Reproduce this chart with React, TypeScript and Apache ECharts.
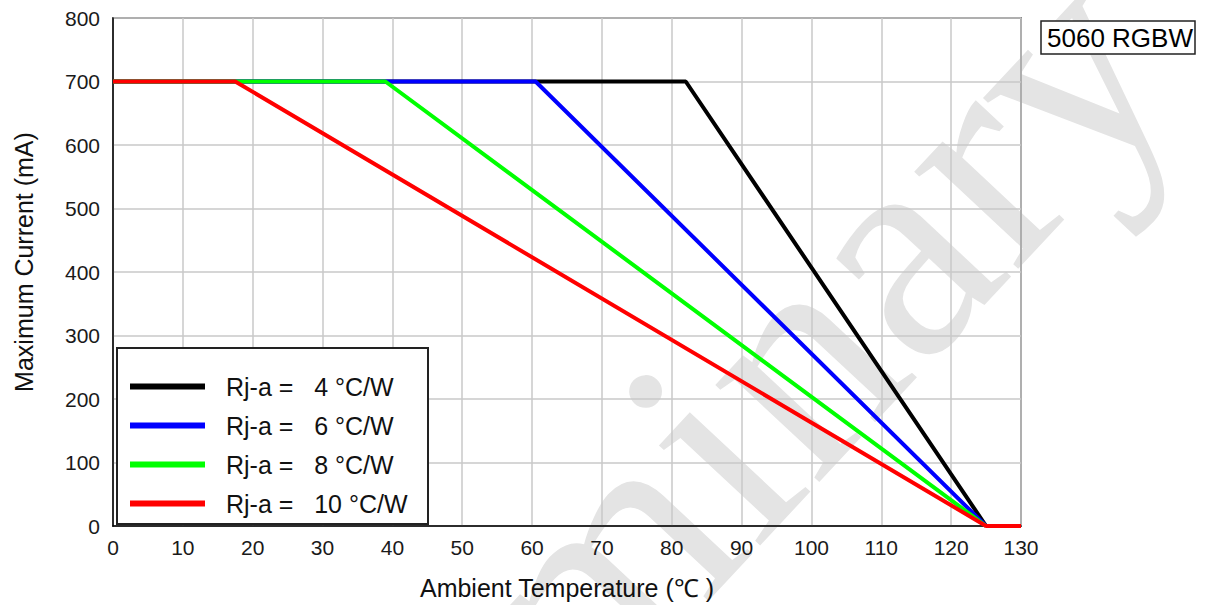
import React, { useEffect, useRef } from "react";
import * as echarts from "echarts";

const NB = "\u00a0\u00a0\u00a0";
const seriesNames = [`Rj-a =${NB}4 °C/W`, `Rj-a =${NB}6 °C/W`, `Rj-a =${NB}8 °C/W`, `Rj-a =${NB}10 °C/W`];
const seriesColors = ["#000000", "#0000ff", "#00ff00", "#ff0000"];
const black4 = [[0, 700], [82, 700], [125, 0]];
const blue6 = [[0, 700], [60.5, 700], [125, 0]];
const green8 = [[0, 700], [39, 700], [125, 0]];
const red10 = [[0, 700], [17.5, 700], [125, 0], [130, 0]];
const seriesData = [black4, blue6, green8, red10];
const chartTitle = "5060 RGBW";
const xName = "Ambient Temperature (℃ )";
const yName = "Maximum Current (mA)";
const watermark = "Preliminary";

const SANS = '"Liberation Sans", Arial, sans-serif';

export default function App() {
  const ref = useRef<HTMLDivElement>(null);
  useEffect(() => {
    if (!ref.current) return;
    const chart = echarts.init(ref.current, undefined, { renderer: "svg" });
    chart.setOption({
      animation: false,
      backgroundColor: "#ffffff",
      title: {
        text: chartTitle,
        left: 1041,
        top: 21,
        padding: [4, 2, 3, 6],
        borderColor: "#222",
        borderWidth: 1.5,
        backgroundColor: "#fff",
        textStyle: { fontFamily: SANS, fontSize: 26, fontWeight: "normal", color: "#000" },
      },
      grid: {
        left: 113,
        right: 184,
        top: 18,
        bottom: 76,
        show: true,
        borderColor: "#333",
        borderWidth: 1.5,
      },
      legend: {
        orient: "vertical",
        left: 130,
        top: 374,
        padding: 0,
        itemWidth: 75,
        itemHeight: 6,
        itemGap: 14,
        icon: "rect",
        data: seriesNames,
        textStyle: { fontFamily: SANS, fontSize: 25, color: "#111", padding: [0, 0, 0, 16], lineHeight: 25 },
        z: 10,
      },
      xAxis: {
        type: "value",
        min: 0,
        max: 130,
        interval: 10,
        name: xName,
        nameLocation: "middle",
        nameGap: 49,
        nameTextStyle: { fontFamily: SANS, fontSize: 25, color: "#111" },
        axisLine: { show: true, lineStyle: { color: "#000", width: 1.5 } },
        axisTick: { show: false },
        axisLabel: { fontFamily: SANS, fontSize: 21, color: "#1a1a1a", margin: 11 },
        splitLine: { show: true, lineStyle: { color: "#c8c8c8", width: 1.5 } },
      },
      yAxis: {
        type: "value",
        min: 0,
        max: 800,
        interval: 100,
        axisLine: { show: true, lineStyle: { color: "#000", width: 1.5 } },
        axisTick: { show: false },
        axisLabel: { fontFamily: SANS, fontSize: 21, color: "#1a1a1a", margin: 13 },
        splitLine: { show: true, lineStyle: { color: "#c8c8c8", width: 1.5 } },
      },
      series: seriesNames.map((n, i) => ({
        name: n,
        type: "line",
        data: seriesData[i],
        showSymbol: false,
        symbol: "none",
        color: seriesColors[i],
        lineStyle: { width: 4, color: seriesColors[i] },
        z: 2 + i,
      })),
      graphic: [
        {
          type: "text",
          x: 1227,
          y: 119,
          rotation: (47 * Math.PI) / 180,
          z: -10,
          silent: true,
          style: {
            text: watermark,
            font: '310px "Liberation Serif", serif',
            fill: "#e4e4e4",
            textAlign: "right",
            textVerticalAlign: "bottom",
          },
        },
        {
          type: "text",
          x: 24,
          y: 262,
          rotation: Math.PI / 2,
          z: 5,
          style: {
            text: yName,
            font: '25px "Liberation Sans", Arial, sans-serif',
            fill: "#111",
            textAlign: "center",
            textVerticalAlign: "middle",
          },
        },
        {
          type: "rect",
          z: 5,
          shape: { x: 117, y: 348, width: 311, height: 176 },
          style: { fill: "#fff", stroke: "#222", lineWidth: 2 },
        },
      ],
    });
    return () => chart.dispose();
  }, []);
  return (
    <div
      ref={ref}
      style={{ position: "fixed", left: 0, top: 0, width: 1205, height: 605 }}
    />
  );
}
